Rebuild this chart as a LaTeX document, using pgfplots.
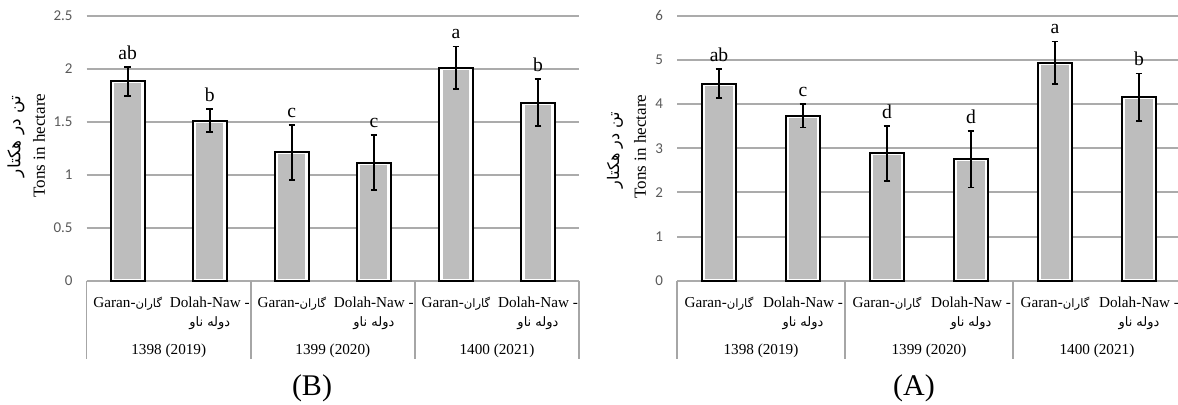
\documentclass[border=0pt]{standalone}
\usepackage{fontspec}
\setmainfont{Liberation Serif}
\newfontfamily\calibri{Carlito}
\newfontfamily\fa[Script=Arabic]{DejaVu Sans}
\usepackage{pgfplots}
\usepackage{pgfplotstable}
\pgfplotsset{compat=1.18}
\TeXXeTstate=1

\definecolor{barfill}{HTML}{BDBDBD}
\definecolor{gridc}{HTML}{ABABAB}
\definecolor{tickc}{HTML}{595959}
\definecolor{sepc}{HTML}{A6A6A6}

\pgfplotstableread{
x y err lab
0 1.88 0.135 ab
1 1.51 0.11 b
2 1.21 0.26 c
3 1.115 0.263 c
4 2.01 0.20 a
5 1.68 0.22 b
}\dataB

\pgfplotstableread{
x y err lab
0 4.46 0.33 ab
1 3.735 0.265 c
2 2.88 0.63 d
3 2.75 0.64 d
4 4.935 0.48 a
5 4.15 0.54 b
}\dataA

\newcommand\Garan{Garan-\smash{\fa\fontsize{5.8}{8}\selectfont\beginR گاران\endR}}
\newcommand\Dolah{Dolah-Naw -\\{\fa\fontsize{6.5}{8}\selectfont\beginR دوله ناو\endR}}

\pgfplotsset{
  mybar/.style={
    scale only axis, height=132.5pt,
    xmin=-0.5, xmax=5.5, ymin=0,
    enlargelimits=false, clip=false,
    axis line style={draw=none}, major tick length=0pt,
    tick style={draw=none},
    ymajorgrids, major grid style={gridc, line width=1pt},
    xtick={0,...,5},
    xticklabels={{\Garan},{\Dolah},{\Garan},{\Dolah},{\Garan},{\Dolah}},
    xticklabel style={font=\fontsize{7.6}{9.5}\selectfont, align=center, anchor=north, inner sep=0pt, yshift=-8pt},
    yticklabel style={font=\calibri\fontsize{7.5}{8}\selectfont, text=tickc, inner sep=0pt, xshift=-6.85pt, anchor=east},
    /pgf/number format/assume math mode=true,
  },
  graybar/.style={ybar, bar shift=0pt, bar width=0.375, fill=barfill, draw=white, line width=2pt},
  outbar/.style={ybar, bar shift=0pt, bar width=0.41, fill=none, draw=black, line width=1pt,
    error bars/.cd, y dir=both, y explicit,
    error bar style={line width=0.9pt, black},
    error mark options={rotate=90, mark size=1.65pt, line width=0.9pt, black}},
  letters/.style={draw=none, mark=none, nodes near coords, point meta=explicit symbolic,
    nodes near coords style={anchor=south, inner sep=0pt, yshift=3.5pt, text=black, font=\fontsize{9.8}{11}\selectfont}},
}

\begin{document}
\begin{tikzpicture}
% ---------- (B) ----------
\begin{axis}[mybar, at={(43.35pt,62.15pt)}, anchor=south west, width=246.15pt,
  ymax=2.5, ytick={0,0.5,...,2.5}]
\addplot[graybar] table[x=x,y=y]{\dataB};
\addplot[outbar] table[x=x,y=y,y error=err]{\dataB};
\addplot[letters] table[x=x, y expr=\thisrow{y}+\thisrow{err}, meta=lab]{\dataB};
\draw[sepc, line width=0.75pt] (axis cs:-0.5,0) -- ++(0pt,-39.15pt);
\draw[sepc, line width=0.75pt] (axis cs:1.5,0) -- ++(0pt,-39.15pt);
\draw[sepc, line width=0.75pt] (axis cs:3.5,0) -- ++(0pt,-39.15pt);
\draw[sepc, line width=0.75pt] (axis cs:5.5,0) -- ++(0pt,-39.15pt);
\node[font=\fontsize{7.6}{9}\selectfont] at (axis cs:0.5,0) [yshift=-35.15pt] {1398 (2019)};
\node[font=\fontsize{7.6}{9}\selectfont] at (axis cs:2.5,0) [yshift=-35.15pt] {1399 (2020)};
\node[font=\fontsize{7.6}{9}\selectfont] at (axis cs:4.5,0) [yshift=-35.15pt] {1400 (2021)};
\end{axis}
% ---------- (A) ----------
\begin{axis}[mybar, at={(338.5pt,62.15pt)}, anchor=south west, width=252pt,
  ymax=6, ytick={0,1,...,6}]
\addplot[graybar] table[x=x,y=y]{\dataA};
\addplot[outbar] table[x=x,y=y,y error=err]{\dataA};
\addplot[letters] table[x=x, y expr=\thisrow{y}+\thisrow{err}, meta=lab]{\dataA};
\draw[sepc, line width=0.75pt] (axis cs:-0.5,0) -- ++(0pt,-39.15pt);
\draw[sepc, line width=0.75pt] (axis cs:1.5,0) -- ++(0pt,-39.15pt);
\draw[sepc, line width=0.75pt] (axis cs:3.5,0) -- ++(0pt,-39.15pt);
\draw[sepc, line width=0.75pt] (axis cs:5.5,0) -- ++(0pt,-39.15pt);
\node[font=\fontsize{7.6}{9}\selectfont] at (axis cs:0.5,0) [yshift=-35.15pt] {1398 (2019)};
\node[font=\fontsize{7.6}{9}\selectfont] at (axis cs:2.5,0) [yshift=-35.15pt] {1399 (2020)};
\node[font=\fontsize{7.6}{9}\selectfont] at (axis cs:4.5,0) [yshift=-35.15pt] {1400 (2021)};
\end{axis}
% ---------- y labels and captions ----------
\node[rotate=90, font=\fontsize{8.5}{10}\selectfont] at (19.5pt,129.75pt) {Tons in hectare};
\node[rotate=90, font=\fa\fontsize{8.5}{10}\selectfont] at (8pt,134.25pt) {\beginR تن در هکتار\endR};
\node[rotate=90, font=\fontsize{8.5}{10}\selectfont] at (320pt,129.25pt) {Tons in hectare};
\node[rotate=90, font=\fa\fontsize{8}{10}\selectfont] at (307.5pt,127.5pt) {\beginR تن در هکتار\endR};
\node[font=\fontsize{15}{18}\selectfont] at (156pt,8.5pt) {(B)};
\node[font=\fontsize{15}{18}\selectfont] at (457pt,8.5pt) {(A)};
\pgfresetboundingbox
\useasboundingbox (0,0) rectangle (589pt,202.5pt);
\end{tikzpicture}
\end{document}
